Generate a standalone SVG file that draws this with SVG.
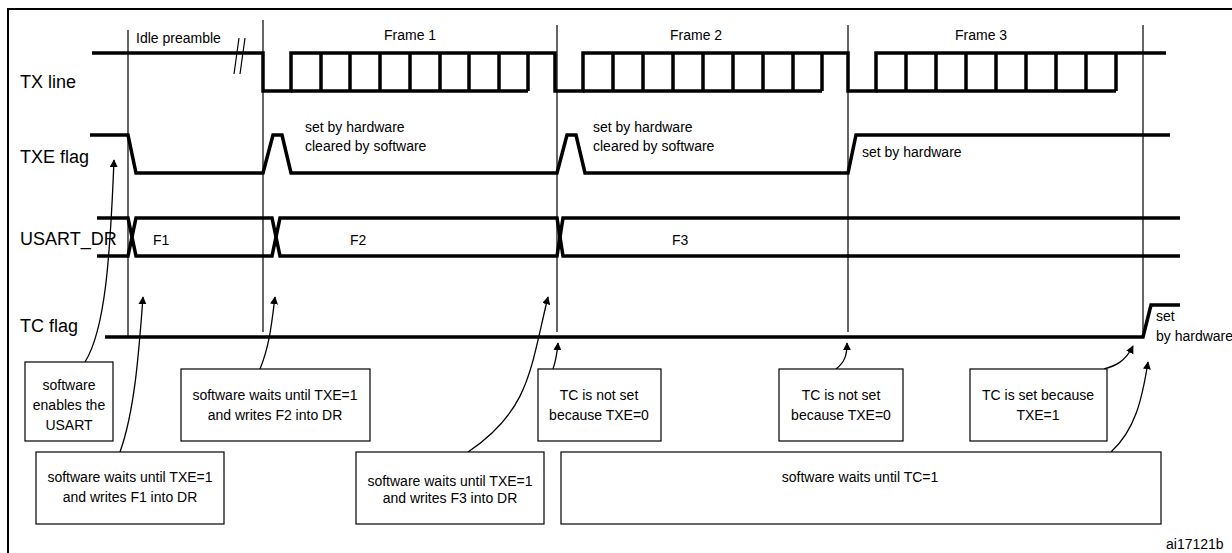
<svg xmlns="http://www.w3.org/2000/svg" width="1232" height="553" viewBox="0 0 1232 553">
<style>
text{font-family:"Liberation Sans",Arial,sans-serif;fill:#000}
.lbl{font-size:18px}
.t{font-size:14px}
.sig{fill:none;stroke:#000;stroke-width:3.5;stroke-linejoin:miter}
.thin{fill:none;stroke:#000;stroke-width:1.2}
.box{fill:#fff;stroke:#000;stroke-width:1.2}
.arr{fill:none;stroke:#000;stroke-width:1.3;marker-end:url(#ah)}
</style>
<defs>
<marker id="ah" viewBox="0 0 10 10" refX="9" refY="5" markerWidth="8" markerHeight="8" markerUnits="userSpaceOnUse" orient="auto"><path d="M0,0 L10,5 L0,10 z" fill="#000"/></marker>
</defs>
<rect width="1232" height="553" fill="#fff"/>
<path d="M8,553 V9 H1232" fill="none" stroke="#000" stroke-width="2"/>

<g id="timelines">
<path class="thin" d="M128,30 V337 M263,20 V332 M557,25 V332 M848,25 V332 M1143,25 V332"/>
<text class="t" x="136" y="43">Idle preamble</text>
<text class="t" x="384" y="40">Frame 1</text>
<text class="t" x="670" y="40">Frame 2</text>
<text class="t" x="955" y="40">Frame 3</text>
</g>

<g id="tx-line">
<text class="lbl" x="20" y="88">TX line</text>
<path class="sig" d="M92,53 H263 V91 H291 V53 H555 V91 H583 V53 H848 V91 H876 V53 H1166"/>
<path class="sig" d="M291,91 H528 M583,91 H822 M876,91 H1116"/>
<path class="sig" d="M321,53V91 M350,53V91 M380,53V91 M410,53V91 M440,53V91 M469,53V91 M499,53V91 M528,53V91"/>
<path class="sig" d="M613,53V91 M643,53V91 M673,53V91 M703,53V91 M733,53V91 M763,53V91 M793,53V91 M822,53V91"/>
<path class="sig" d="M906,53V91 M936,53V91 M966,53V91 M996,53V91 M1026,53V91 M1056,53V91 M1086,53V91 M1116,53V91"/>
<path class="thin" stroke-width="1.5" d="M234,74 L239,38 M240,74 L245,38"/>
</g>

<g id="txe-flag">
<text class="lbl" x="20" y="163">TXE flag</text>
<path class="sig" d="M90,135 H128 L136,173 H263 L273,135 H282 L291,173 H557 L567,135 H576 L585,173 H848 L856,135 H1170"/>
<text class="t" x="305" y="132">set by hardware</text>
<text class="t" x="305" y="151">cleared by software</text>
<text class="t" x="593" y="132">set by hardware</text>
<text class="t" x="593" y="151">cleared by software</text>
<text class="t" x="862" y="157">set by hardware</text>
</g>

<g id="usart-dr">
<text class="lbl" x="20" y="245">USART_DR</text>
<path class="sig" d="M97,218 H128 L136,256 H272 L280,218 H557 L563,256 H1180"/>
<path class="sig" d="M97,256 H128 L136,218 H272 L280,256 H557 L563,218 H1180"/>
<text class="t" x="153" y="245">F1</text>
<text class="t" x="350" y="245">F2</text>
<text class="t" x="672" y="245">F3</text>
</g>

<g id="tc-flag">
<text class="lbl" x="20" y="332">TC flag</text>
<path class="sig" d="M105,337 H1143 L1151,305 H1180"/>
<text class="t" x="1156" y="321">set</text>
<text class="t" x="1156" y="341">by hardware</text>
</g>

<g id="connectors">
<path class="arr" d="M85,362 C105,330 110,260 114,160"/>
<path class="arr" d="M120,452 C135,410 139,350 143,297"/>
<path class="arr" d="M260,369 C270,345 272,320 275,297"/>
<path class="arr" d="M468,452 C530,410 530,370 548,297"/>
<path class="arr" d="M553,369 C556,360 557,355 558,343"/>
<path class="arr" d="M836,369 C845,362 847,355 847,343"/>
<path class="arr" d="M1104,369 C1115,366 1125,362 1133,346"/>
<path class="arr" d="M1111,452 C1135,430 1142,400 1148,362"/>
</g>

<g id="box-enable"><rect class="box" x="25" y="362" width="88" height="79"/>
<text class="t" text-anchor="middle" x="69" y="390">software</text>
<text class="t" text-anchor="middle" x="69" y="410">enables the</text>
<text class="t" text-anchor="middle" x="69" y="430">USART</text></g>
<g id="box-f1"><rect class="box" x="36" y="452" width="188" height="72"/>
<text class="t" text-anchor="middle" x="130" y="482">software waits until TXE=1</text>
<text class="t" text-anchor="middle" x="130" y="502">and writes F1 into DR</text></g>
<g id="box-f2"><rect class="box" x="181" y="369" width="189" height="72"/>
<text class="t" text-anchor="middle" x="275" y="400">software waits until TXE=1</text>
<text class="t" text-anchor="middle" x="275" y="420">and writes F2 into DR</text></g>
<g id="box-f3"><rect class="box" x="356" y="452" width="188" height="72"/>
<text class="t" text-anchor="middle" x="450" y="486">software waits until TXE=1</text>
<text class="t" text-anchor="middle" x="450" y="503">and writes F3 into DR</text></g>
<g id="box-tc1"><rect class="box" x="538" y="369" width="123" height="72"/>
<text class="t" text-anchor="middle" x="599" y="400">TC is not set</text>
<text class="t" text-anchor="middle" x="599" y="420">because TXE=0</text></g>
<g id="box-tc2"><rect class="box" x="779" y="369" width="124" height="72"/>
<text class="t" text-anchor="middle" x="841" y="400">TC is not set</text>
<text class="t" text-anchor="middle" x="841" y="420">because TXE=0</text></g>
<g id="box-tc3"><rect class="box" x="970" y="369" width="137" height="72"/>
<text class="t" text-anchor="middle" x="1038" y="400">TC is  set because</text>
<text class="t" text-anchor="middle" x="1038" y="420">TXE=1</text></g>
<g id="box-tcwait"><rect class="box" x="561" y="452" width="600" height="72"/>
<text class="t" text-anchor="middle" x="860" y="482">software waits until TC=1</text></g>
<text class="t" x="1166" y="549">ai17121b</text>
</svg>
